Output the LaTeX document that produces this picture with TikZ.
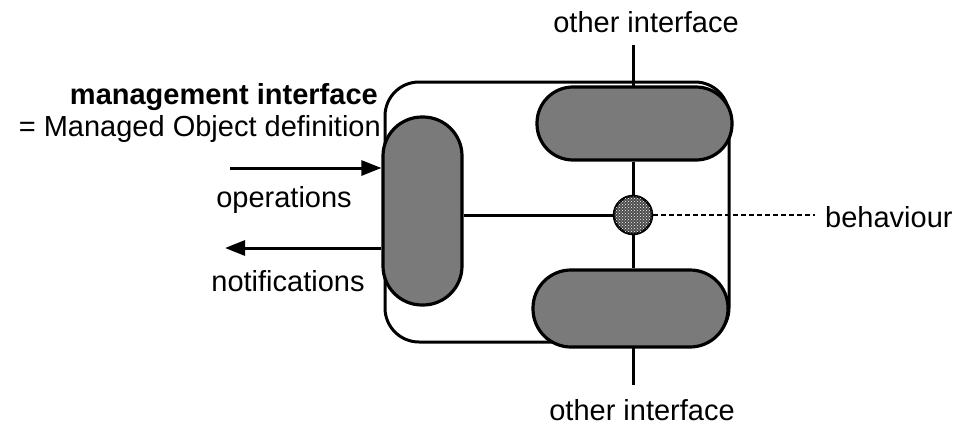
\documentclass[tikz,border=0pt]{standalone}
\usepackage{fontspec}
\setmainfont{Liberation Sans}
\usetikzlibrary{arrows.meta,patterns}
\begin{document}
\begin{tikzpicture}[x=1pt,y=-1pt,
  lbl/.style={inner sep=0pt, font=\fontsize{29}{34}\selectfont},
  pill/.style={draw=black, line width=3.2pt, fill=black!52, inner sep=0pt},
  conn/.style={line width=3pt},
  arr/.style={line width=3pt, -{Triangle[length=20pt,width=15pt]}}]
\useasboundingbox (0,0) rectangle (957,428);
% outer frame
\draw[line width=3pt, rounded corners=34pt] (385,82) rectangle (729,342);
% coordinates
\coordinate (topend) at (633,45);
\coordinate (botend) at (633,385);
\coordinate (dashend) at (815,215);
\coordinate (opsstart) at (230,168);
\coordinate (notend) at (225,248);
% lines behind pills
\draw[conn] (topend) -- (633,160);
\draw[conn] (633,270) -- (botend);
% pills
\node[pill, rounded corners=39pt, minimum width=79pt, minimum height=188pt] (lp) at (422.5,211) {};
\node[pill, rounded corners=36pt, minimum width=195pt, minimum height=73pt] (up) at (634.5,123.5) {};
\node[pill, rounded corners=38pt, minimum width=195pt, minimum height=77pt] (dp) at (630.5,308.5) {};
% behaviour circle
\node[circle, draw=black, line width=2.5pt, fill=black!70, minimum size=38pt, inner sep=0pt,
  postaction={pattern=crosshatch dots, pattern color=white}] (bc) at (633,215) {};
% connectors
\draw[conn] (up.south -| bc) -- (bc.north);
\draw[conn] (bc.south) -- (dp.north -| bc);
\draw[conn] (lp.east |- bc) -- (bc.west);
\draw[line width=2.8pt, dash pattern=on 5pt off 3pt] (bc.east) -- (dashend);
\draw[arr] (opsstart) -- (lp.west |- opsstart);
\draw[arr] (lp.west |- notend) -- (notend);
% labels
\node[lbl, anchor=east, font=\fontsize{29}{34}\selectfont\bfseries] (mi) at (378,97) {management interface};
\node[lbl, anchor=east] (mod) at (381,129) {= Managed Object definition};
\node[lbl] (ot) at (646,22) {other interface};
\node[lbl] (ob) at (642,410) {other interface};
\node[lbl] (ops) at (284,200) {operations};
\node[lbl] (nots) at (288,281) {notifications};
\node[lbl, anchor=west] (beh) at (825,217) {behaviour};
\end{tikzpicture}
\end{document}
